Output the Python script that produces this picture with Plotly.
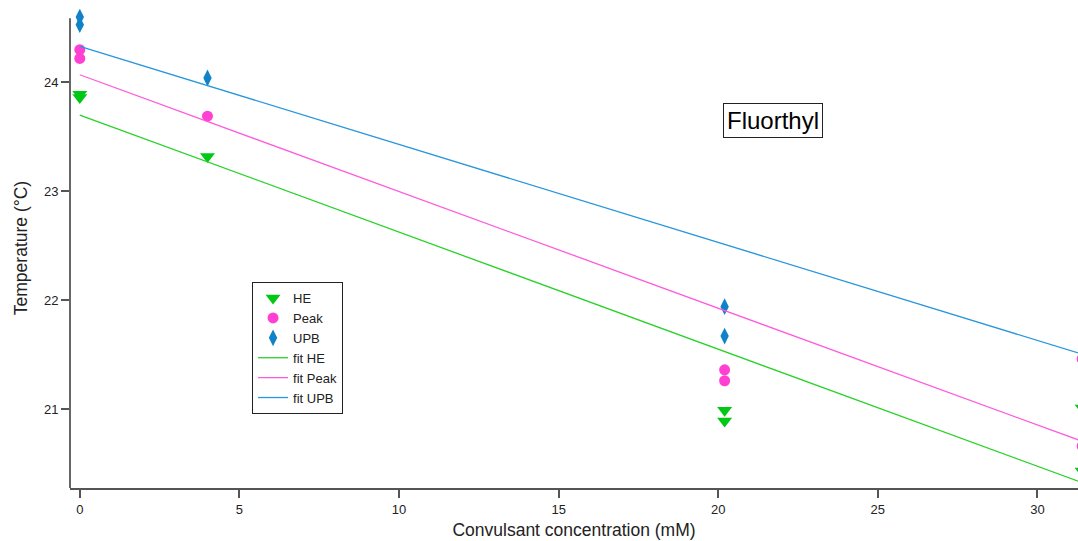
import plotly.graph_objects as go

# Measured transition temperatures vs. fluorothyl concentration
he_x = [0, 0, 4, 20.2, 20.2, 31.4, 31.4]
he_y = [23.89, 23.86, 23.32, 20.99, 20.89, 21.01, 20.43]

peak_x = [0, 0, 4, 20.2, 20.2, 31.4, 31.4]
peak_y = [24.30, 24.22, 23.69, 21.36, 21.26, 21.46, 20.66]

upb_x = [0, 0, 4, 20.2, 20.2]
upb_y = [24.60, 24.53, 24.04, 21.94, 21.67]

# Linear fits: (intercept, slope)
fit_he = (23.70, -0.1075)
fit_peak = (24.07, -0.1072)
fit_upb = (24.33, -0.0900)
fit_x = [0, 32]

x_ticks = [0, 5, 10, 15, 20, 25, 30]
y_ticks = [21, 22, 23, 24]

# visible extent of the temperature axis line
y_axis_span = [20.275, 24.59]

GREEN_M = "rgb(0,200,20)"
PINK_M = "rgb(255,64,210)"
BLUE_M = "rgb(16,130,200)"
GREEN_L = "rgb(40,210,40)"
PINK_L = "rgb(255,90,220)"
BLUE_L = "rgb(40,150,220)"

fig = go.Figure()

fig.add_trace(go.Scatter(x=he_x, y=he_y, mode="markers", name="HE",
                         marker=dict(symbol="triangle-down", size=13, color=GREEN_M)))
fig.add_trace(go.Scatter(x=peak_x, y=peak_y, mode="markers", name="Peak",
                         marker=dict(symbol="circle", size=11, color=PINK_M)))
fig.add_trace(go.Scatter(x=upb_x, y=upb_y, mode="markers", name="UPB",
                         marker=dict(symbol="diamond-tall", size=12, color=BLUE_M)))

for name, (b, m), col in [("fit HE", fit_he, GREEN_L),
                          ("fit Peak", fit_peak, PINK_L),
                          ("fit UPB", fit_upb, BLUE_L)]:
    fig.add_trace(go.Scatter(x=fit_x, y=[b + m * xv for xv in fit_x], mode="lines",
                             name=name, line=dict(color=col, width=1.3)))

fig.add_annotation(text="Fluorthyl", xref="paper", yref="paper", x=0.697, y=0.765,
                   xanchor="center", yanchor="middle",
                   showarrow=False, font=dict(size=24, color="black"),
                   bordercolor="#222", borderwidth=1, borderpad=3, bgcolor="white")

# left axis line, drawn only over its labelled span
fig.add_shape(type="line", xref="paper", yref="y", x0=0, x1=0,
              y0=y_axis_span[0], y1=y_axis_span[1],
              line=dict(color="#666", width=2), layer="above")

font_family = "Liberation Sans, Arial, sans-serif"

fig.update_layout(
    width=1078, height=541,
    margin=dict(l=70, r=0, t=8, b=53),
    paper_bgcolor="white", plot_bgcolor="white",
    font=dict(family=font_family, size=13, color="#222"),
    showlegend=True,
    legend=dict(x=0.1806, y=0.429, xanchor="left", yanchor="top",
                bordercolor="#222", borderwidth=1, bgcolor="white",
                font=dict(size=13), itemwidth=30, tracegroupgap=0),
    xaxis=dict(range=[-0.307, 31.27], tickvals=x_ticks, showgrid=False, zeroline=False,
               showline=True, linecolor="#555", linewidth=2,
               ticks="outside", ticklen=8, tickwidth=1.5, tickcolor="#555",
               tickfont=dict(size=13, color="#222"),
               title=dict(text="Convulsant concentration (mM)", font=dict(size=17.5, color="#222"),
                          standoff=8)),
    yaxis=dict(range=[20.275, 24.683], tickvals=y_ticks, showgrid=False, zeroline=False,
               showline=False,
               ticks="outside", ticklen=8, tickwidth=1.5, tickcolor="#555",
               tickfont=dict(size=13, color="#222"),
               title=dict(text="Temperature (°C)", font=dict(size=17.5, color="#222"),
                          standoff=11)),
)

fig.write_html("out.html")
